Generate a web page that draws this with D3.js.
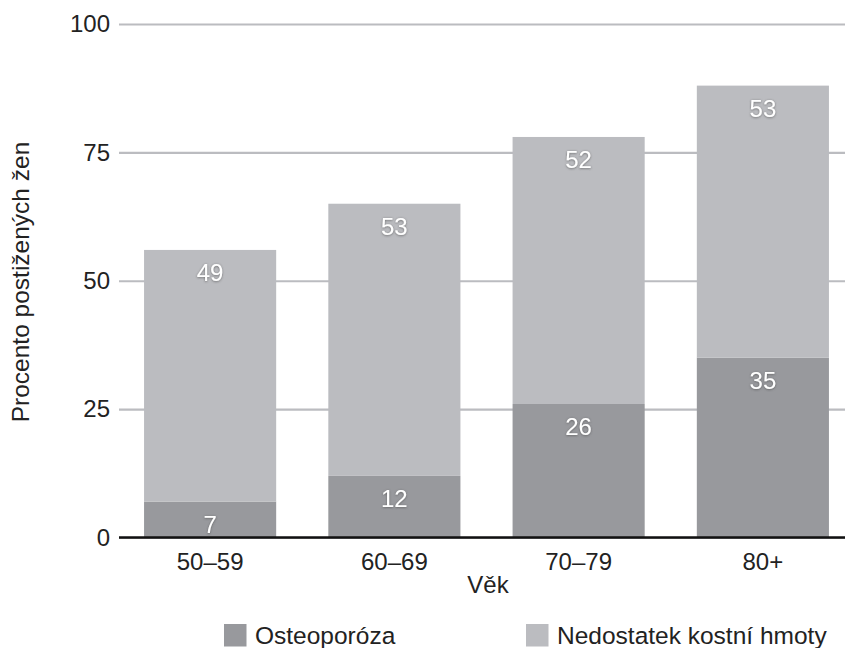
<!DOCTYPE html>
<html>
<head>
<meta charset="utf-8">
<script src="https://cdn.jsdelivr.net/npm/d3@7"></script>
<style>
  html, body { margin: 0; padding: 0; background: #fff; }
  svg { display: block; }
  text { font-family: "Liberation Sans", Arial, Helvetica, sans-serif; }
</style>
</head>
<body>
<svg id="chart" width="845" height="648"></svg>
<script>
// Age groups and shares of affected women (%)
const ageGroups = ["50–59", "60–69", "70–79", "80+"];
const osteoporosis = [7, 12, 26, 35];
const lowBoneMass = [49, 53, 52, 53];
const yTicks = [0, 25, 50, 75, 100];
const seriesNames = ["Osteoporóza", "Nedostatek kostní hmoty"];
const seriesColors = ["#98999d", "#bbbcc0"];

const svg = d3.select("#chart");
const W = 845;

const x = d3.scaleBand()
  .domain(ageGroups)
  .range([119, 854])
  .paddingInner(0.283)
  .paddingOuter(0.136);

const y = d3.scaleLinear().domain([0, 100]).range([537.5, 24]);

// soft shadow behind the white value labels
const defs = svg.append("defs");
const f = defs.append("filter").attr("id", "lblShadow")
  .attr("x", "-30%").attr("y", "-30%").attr("width", "160%").attr("height", "160%");
f.append("feDropShadow").attr("dx", 0).attr("dy", 0.6)
  .attr("stdDeviation", 1.2).attr("flood-color", "#444").attr("flood-opacity", 0.7);

// horizontal gridlines
const yAxis = d3.axisLeft(y).tickValues(yTicks).tickSize(0).tickPadding(9);
const yG = svg.append("g").attr("transform", "translate(119,0)").call(yAxis);
yG.select(".domain").remove();
yG.selectAll(".tick line")
  .attr("x2", W - 119)
  .attr("stroke", "#bbbcc0")
  .attr("stroke-width", 2.2);
yG.selectAll(".tick text")
  .attr("font-size", 24)
  .attr("fill", "#222")
  .attr("font-family", "Liberation Sans, Arial, sans-serif");

// stacked bars
const stackData = ageGroups.map((g, i) => ({ group: g, osteo: osteoporosis[i], low: lowBoneMass[i] }));
const stack = d3.stack().keys(["osteo", "low"]);
const layers = stack(stackData);

const layerG = svg.append("g").selectAll("g")
  .data(layers).join("g")
  .attr("fill", (d, i) => seriesColors[i]);

layerG.selectAll("rect")
  .data(d => d)
  .join("rect")
  .attr("x", d => x(d.data.group))
  .attr("width", x.bandwidth())
  .attr("y", d => y(d[1]))
  .attr("height", d => y(d[0]) - y(d[1]));

// value labels near the top of each segment
const labelG = svg.append("g");
layers.forEach(layer => {
  labelG.selectAll(null)
    .data(layer)
    .join("text")
    .attr("x", d => x(d.data.group) + x.bandwidth() / 2)
    .attr("y", d => y(d[1]) + 31)
    .attr("text-anchor", "middle")
    .attr("font-size", 24)
    .attr("fill", "#fff")
    .attr("filter", "url(#lblShadow)")
    .text(d => d[1] - d[0]);
});

// baseline
svg.append("line")
  .attr("x1", 119).attr("x2", W)
  .attr("y1", y(0)).attr("y2", y(0))
  .attr("stroke", "#111").attr("stroke-width", 2.5);

// category axis labels
const xAxis = d3.axisBottom(x).tickSize(0).tickPadding(15);
const xG = svg.append("g").attr("transform", `translate(0,${y(0)})`).call(xAxis);
xG.select(".domain").remove();
xG.selectAll(".tick text")
  .attr("font-size", 24)
  .attr("fill", "#222")
  .attr("font-family", "Liberation Sans, Arial, sans-serif");

// axis titles
svg.append("text")
  .attr("x", 488).attr("y", 593)
  .attr("text-anchor", "middle")
  .attr("font-size", 24).attr("fill", "#222")
  .text("Věk");

svg.append("text")
  .attr("transform", "translate(29,282) rotate(-90)")
  .attr("text-anchor", "middle")
  .attr("font-size", 24.5).attr("fill", "#222")
  .text("Procento postižených žen");

// legend
const legendX = [224, 526];
const legend = svg.append("g").selectAll("g")
  .data(seriesNames).join("g")
  .attr("transform", (d, i) => `translate(${legendX[i]},624)`);
legend.append("rect")
  .attr("width", 22.5).attr("height", 22.5)
  .attr("fill", (d, i) => seriesColors[i]);
legend.append("text")
  .attr("x", 31).attr("y", 19.5)
  .attr("font-size", 24.5).attr("fill", "#222")
  .text(d => d);
</script>
</body>
</html>
